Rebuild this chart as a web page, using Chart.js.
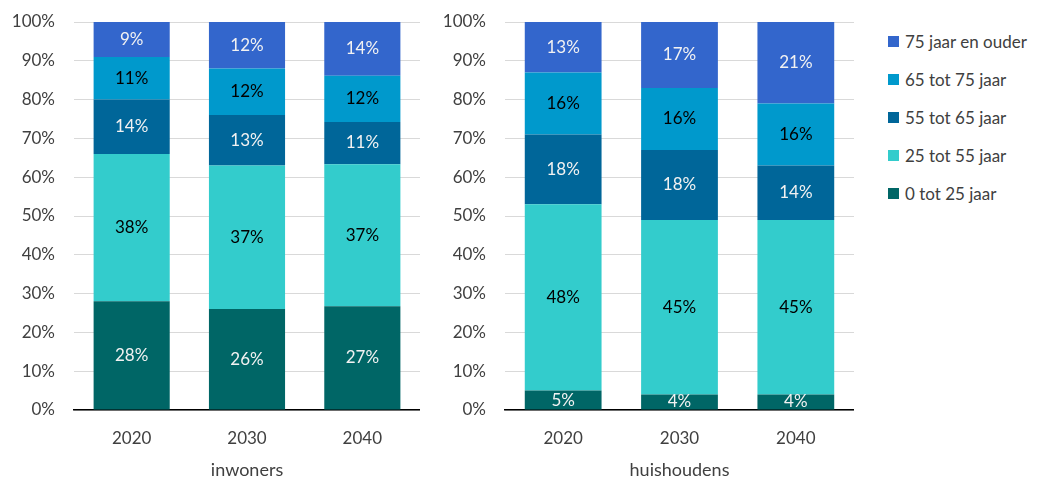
<!DOCTYPE html>
<html>
<head>
<meta charset="utf-8">
<title>Leeftijdsopbouw inwoners en huishoudens</title>
<script src="https://cdn.jsdelivr.net/npm/chart.js@4.4.1/dist/chart.umd.min.js"></script>
<style>
  body { margin: 0; background: #fff; width: 1039px; height: 477px; overflow: hidden; position: relative; font-family: Lato, sans-serif; }
  .panel { position: absolute; top: 0; }
  #legend { position: absolute; left: 888px; top: 22px; }
  .item { height: 38px; display: flex; align-items: center; font-size: 17px; color: #404040; white-space: nowrap; }
  .swatch { width: 11px; height: 11px; margin-right: 6px; flex: none; }
</style>
</head>
<body>
<canvas id="inwonersChart" class="panel" style="left:0px" width="420" height="477"></canvas>
<canvas id="huishoudensChart" class="panel" style="left:430px" width="424" height="477"></canvas>
<div id="legend"></div>

<script>
// ---- data ----
const categories = ['2020', '2030', '2040'];
const ageGroups = ['0 tot 25 jaar', '25 tot 55 jaar', '55 tot 65 jaar', '65 tot 75 jaar', '75 jaar en ouder'];
const groupColors = ['#006666', '#33cccc', '#006699', '#0099cc', '#3366cc'];
const labelColors = ['#f2f2f2', '#000000', '#f2f2f2', '#000000', '#f2f2f2'];
const yTicks = [0, 10, 20, 30, 40, 50, 60, 70, 80, 90, 100];

// inwoners, % per age group (2020, 2030, 2040)
const inw0to25 = [28, 26, 27];
const inw25to55 = [38, 37, 37];
const inw55to65 = [14, 13, 11];
const inw65to75 = [11, 12, 12];
const inw75plus = [9, 12, 14];

// huishoudens, % per age group of the head of household
const hh0to25 = [5, 4, 4];
const hh25to55 = [48, 45, 45];
const hh55to65 = [18, 18, 14];
const hh65to75 = [16, 16, 16];
const hh75plus = [13, 17, 21];

Chart.defaults.font.family = 'Lato, sans-serif';
Chart.defaults.font.size = 17;
Chart.defaults.color = '#404040';

// writes the percentage in the middle of every bar segment
const segmentLabels = {
  id: 'segmentLabels',
  afterDatasetsDraw(chart) {
    const ctx = chart.ctx;
    ctx.save();
    ctx.font = '17px Lato, sans-serif';
    ctx.textAlign = 'center';
    ctx.textBaseline = 'middle';
    chart.data.datasets.forEach((ds, i) => {
      chart.getDatasetMeta(i).data.forEach((bar, j) => {
        const p = bar.getCenterPoint();
        ctx.fillStyle = ds.labelColor;
        ctx.fillText(ds.values[j] + '%', p.x, p.y);
      });
    });
    ctx.restore();
  }
};

function makeChart(canvasId, axisTitle, series, yAxisWidth) {
  // 100% stacked: each column is scaled to its own total
  const totals = categories.map((c, j) => series.reduce((sum, arr) => sum + arr[j], 0));
  const datasets = series.map((arr, i) => ({
    label: ageGroups[i],
    data: arr.map((v, j) => v / totals[j] * 100),
    values: arr,
    backgroundColor: groupColors[i],
    labelColor: labelColors[i],
    borderWidth: 0,
    barPercentage: 0.66,
    categoryPercentage: 1
  }));

  return new Chart(document.getElementById(canvasId), {
    type: 'bar',
    data: { labels: categories, datasets: datasets },
    options: {
      responsive: false,
      animation: false,
      layout: { padding: { top: 22, right: 0, bottom: 0, left: 0 } },
      plugins: { legend: { display: false }, tooltip: { enabled: false } },
      scales: {
        x: {
          stacked: true,
          grid: { display: false },
          border: { color: '#000000', width: 1.5 },
          ticks: { padding: 10 },
          title: { display: true, text: axisTitle, color: '#404040', font: { size: 18, lineHeight: 1 }, padding: { top: 0, bottom: -2 } },
          afterFit: scale => { scale.height = 67; }
        },
        y: {
          stacked: true,
          min: 0,
          max: 100,
          afterBuildTicks: scale => { scale.ticks = yTicks.map(v => ({ value: v })); },
          ticks: { padding: 19, callback: v => v + '%' },
          grid: { color: '#d9d9d9', drawTicks: false },
          border: { display: false },
          afterFit: scale => {
            scale.width = yAxisWidth;
            scale.paddingTop = 0;
            scale.paddingBottom = 0;
          }
        }
      }
    },
    plugins: [segmentLabels]
  });
}

makeChart('inwonersChart', 'inwoners', [inw0to25, inw25to55, inw55to65, inw65to75, inw75plus], 74);
makeChart('huishoudensChart', 'huishoudens', [hh0to25, hh25to55, hh55to65, hh65to75, hh75plus], 75);

// legend, oldest group on top
const legend = document.getElementById('legend');
for (let i = ageGroups.length - 1; i >= 0; i--) {
  const item = document.createElement('div');
  item.className = 'item';
  const sw = document.createElement('span');
  sw.className = 'swatch';
  sw.style.background = groupColors[i];
  item.appendChild(sw);
  item.appendChild(document.createTextNode(ageGroups[i]));
  legend.appendChild(item);
}
</script>
</body>
</html>
